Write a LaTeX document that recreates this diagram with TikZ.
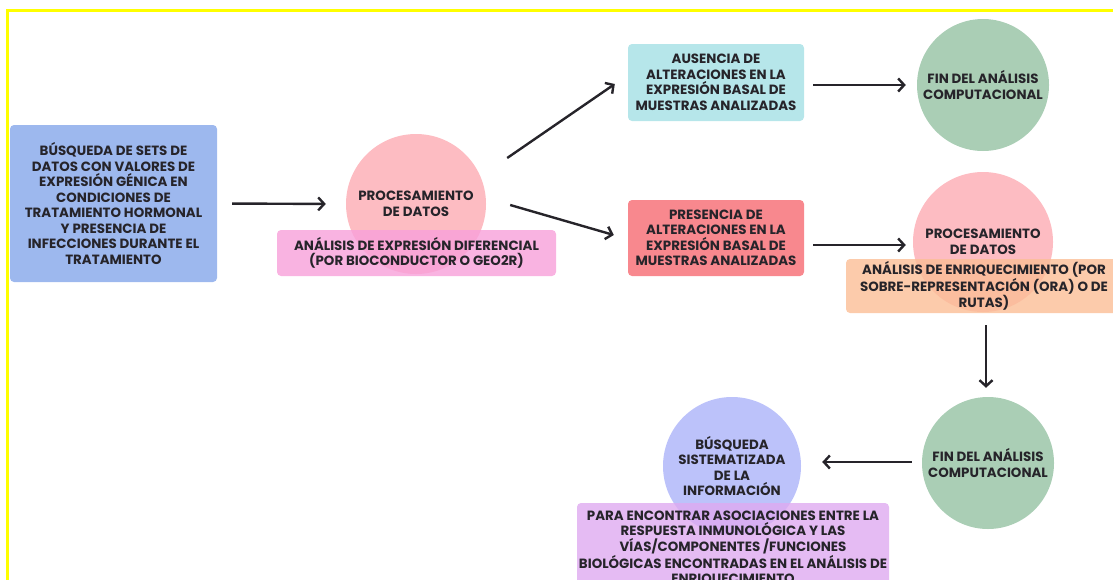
\documentclass[tikz,border=0pt]{standalone}
\usepackage{fontspec}
\setmainfont{Poppins}
\usetikzlibrary{arrows.meta}
\definecolor{figBl}{RGB}{157,184,238}
\definecolor{figPk}{RGB}{253,188,194}
\definecolor{figMg}{RGB}{248,160,218}
\definecolor{figCy}{RGB}{182,230,234}
\definecolor{figRd}{RGB}{248,136,142}
\definecolor{figGn}{RGB}{170,206,181}
\definecolor{figOr}{RGB}{251,190,150}
\definecolor{figLv}{RGB}{188,194,250}
\definecolor{figPu}{RGB}{222,170,240}
\definecolor{figTx}{RGB}{38,36,42}
\definecolor{figYe}{RGB}{255,255,0}

\begin{document}
\begin{tikzpicture}[x=1pt,y=-1pt,
  txt/.style={font=\bfseries\fontsize{13.4}{15.5}\selectfont,text=figTx,align=center,inner sep=0pt},
  box/.style={txt,rounded corners=4pt},
  blob/.style={txt,circle,minimum size=140},
  over/.style={fill opacity=.8,text opacity=1},
  arr/.style={-{Straight Barb[length=6pt,width=13pt]},line width=2.4pt,draw=figTx}]
\useasboundingbox (0,0) rectangle (1113,579);
\draw[figYe,line width=3pt] (7,600) -- (7,10) -- (1120,10);
% start
\node[box,fill=figBl,minimum width=207,minimum height=157] (busq) at (113.5,203.5)
  {BÚSQUEDA DE SETS DE\\DATOS CON VALORES DE\\EXPRESIÓN GÉNICA EN\\CONDICIONES DE\\TRATAMIENTO HORMONAL\\Y PRESENCIA DE\\INFECCIONES DURANTE EL\\TRATAMIENTO};
\node[blob,fill=figPk] (proc1) at (416,204) {PROCESAMIENTO\\DE DATOS};
\node[box,over,fill=figMg,minimum width=279,minimum height=46] (dif) at (416.5,253)
  {ANÁLISIS DE EXPRESIÓN DIFERENCIAL\\(POR BIOCONDUCTOR O GEO2R)};
% upper branch
\node[box,fill=figCy,minimum width=176,minimum height=77] (aus) at (716,82.5)
  {AUSENCIA DE\\ALTERACIONES EN LA\\EXPRESIÓN BASAL DE\\MUESTRAS ANALIZADAS};
\node[blob,fill=figGn,minimum size=132] (fin1) at (983,85) {FIN DEL ANÁLISIS\\COMPUTACIONAL};
% lower branch
\node[box,fill=figRd,minimum width=176,minimum height=76] (pres) at (716,238)
  {PRESENCIA DE\\ALTERACIONES EN LA\\EXPRESIÓN BASAL DE\\MUESTRAS ANALIZADAS};
\node[blob,fill=figPk] (proc2) at (983,242) {PROCESAMIENTO\\DE DATOS};
\node[box,over,fill=figOr,minimum width=276,minimum height=54] (enr) at (984,286)
  {ANÁLISIS DE ENRIQUECIMIENTO (POR\\SOBRE-REPRESENTACIÓN (ORA) O DE\\RUTAS)};
% bottom row
\node[blob,fill=figGn,minimum size=132] (fin2) at (988,463) {FIN DEL ANÁLISIS\\COMPUTACIONAL};
\node[blob,fill=figLv,minimum size=138] (sist) at (732,466)
  {BÚSQUEDA\\SISTEMATIZADA\\DE LA\\INFORMACIÓN};
\node[box,over,fill=figPu,minimum width=312,minimum height=90] (para) at (733,548)
  {PARA ENCONTRAR ASOCIACIONES ENTRE LA\\RESPUESTA INMUNOLÓGICA Y LAS\\VÍAS/COMPONENTES /FUNCIONES\\BIOLÓGICAS ENCONTRADAS EN EL ANÁLISIS DE\\ENRIQUECIMIENTO};
% arrows
\draw[arr,shorten <=15pt,shorten >=20pt] (busq.east) -- (proc1.west);
\draw[arr] ([shift={(21,-46)}]proc1.east) -- ([shift={(-13,1.5)}]aus.west);
\draw[arr] ([shift={(24,1)}]proc1.east) -- ([shift={(-14,-3)}]pres.west);
\draw[arr,shorten <=9pt,shorten >=11pt] (aus.east |- fin1) -- (fin1.west);
\draw[arr] ([shift={(9,7)}]pres.east) -- ([shift={(-7,3)}]proc2.west);
\draw[arr] ([shift={(2,12)}]enr.south) -- ([shift={(-2,-9)}]fin2.north);
\draw[arr] ([shift={(-10,-1)}]fin2.west) -- ([shift={(21,-4)}]sist.east);
\end{tikzpicture}
\end{document}
